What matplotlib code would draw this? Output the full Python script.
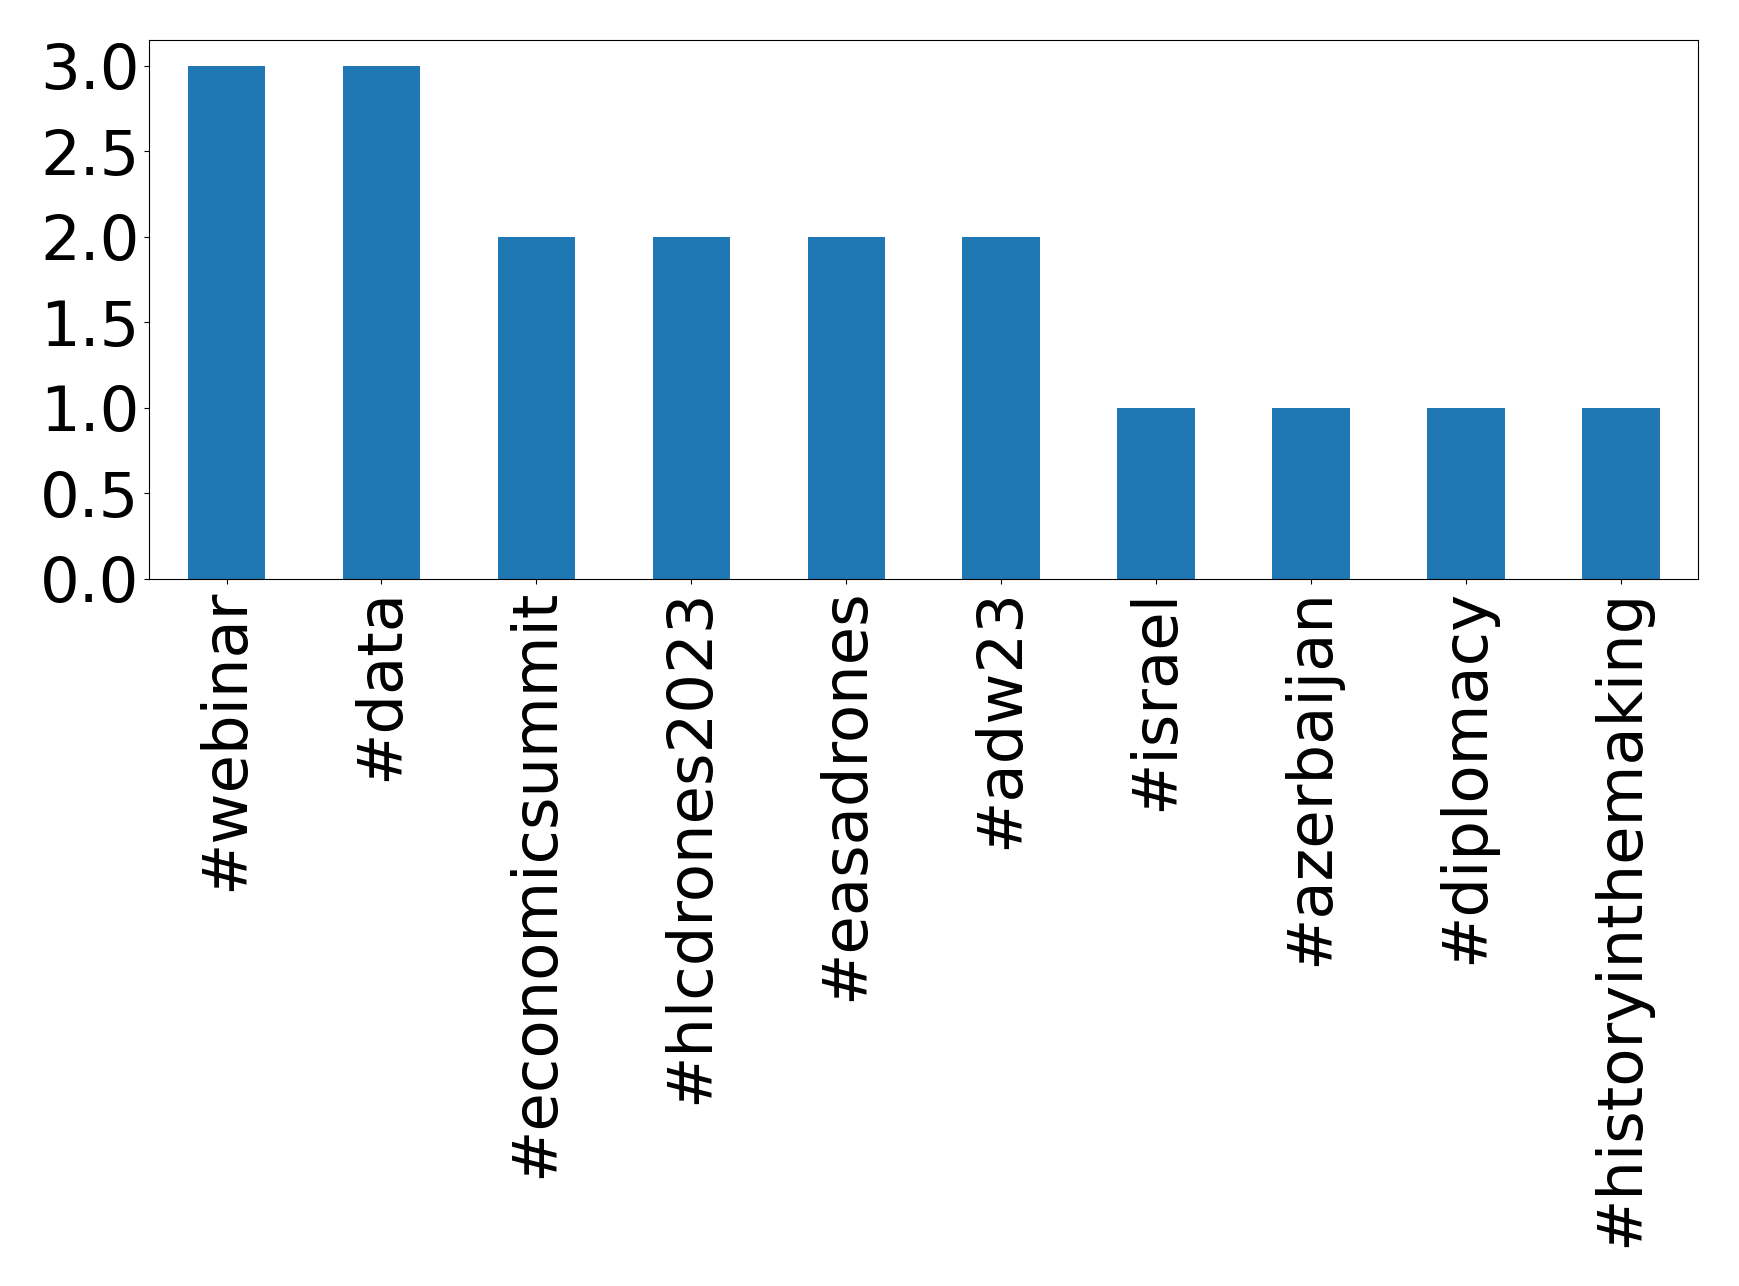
import matplotlib
matplotlib.use("Agg")
import matplotlib.pyplot as plt
import pandas as pd

hashtags = ["#webinar", "#data", "#economicsummit", "#hlcdrones2023", "#easadrones",
            "#adw23", "#israel", "#azerbaijan", "#diplomacy", "#historyinthemaking"]
counts = [3, 3, 2, 2, 2, 2, 1, 1, 1, 1]

s = pd.Series(counts, index=hashtags)

fig = plt.figure(figsize=(17.39, 12.86), dpi=100)
ax = fig.add_axes([0.0857, 0.55, 0.891, 0.419])
s.plot(kind="bar", ax=ax, fontsize=45)
ax.set_ylim(0, 3.15)

fig.savefig("out.png", dpi=100)
